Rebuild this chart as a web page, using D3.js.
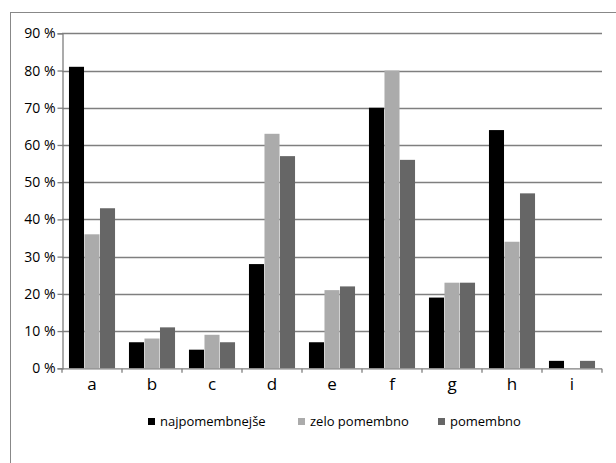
<!DOCTYPE html>
<html>
<head>
<meta charset="utf-8">
<script src="https://cdn.jsdelivr.net/npm/d3@7"></script>
<style>
  body { margin: 0; background: #fff; }
  svg { display: block; font-family: "Open Sans", "Noto Sans", sans-serif; }
</style>
</head>
<body>
<svg id="chart" width="616" height="463"></svg>
<script>
// data
var categories = ["a", "b", "c", "d", "e", "f", "g", "h", "i"];
var seriesNames = ["najpomembnejše", "zelo pomembno", "pomembno"];
var seriesColors = ["#000000", "#ababab", "#666666"];
var najpomembnejse = [81, 7, 5, 28, 7, 70, 19, 64, 2];
var zeloPomembno = [36, 8, 9, 63, 21, 80, 23, 34, 0];
var pomembno = [43, 11, 7, 57, 22, 56, 23, 47, 2];
var yTicks = [0, 10, 20, 30, 40, 50, 60, 70, 80, 90];

var series = [najpomembnejse, zeloPomembno, pomembno];

var svg = d3.select("#chart");

// outer frame (runs off right and bottom edge)
svg.append("rect")
    .attr("x", 10.5).attr("y", 12.5)
    .attr("width", 620).attr("height", 470)
    .style("fill", "none")
    .style("stroke", "#888")
    .style("stroke-width", 1);

var plotL = 62, plotR = 602, plotT = 33.3, plotB = 368.3;

var x = d3.scaleBand()
    .domain(categories)
    .range([plotL, plotR])
    .paddingInner(0)
    .paddingOuter(0);

var xs = d3.scaleBand()
    .domain(d3.range(3))
    .range([6.5, x.bandwidth() - 6.5])
    .padding(0.03);

var y = d3.scaleLinear()
    .domain([0, 90])
    .range([plotB, plotT]);

// gridlines
svg.append("g")
    .selectAll("line")
    .data(yTicks.slice(1))
    .join("line")
    .attr("x1", plotL).attr("x2", plotR)
    .attr("y1", function(d) { return Math.round(y(d)) + 0.5; })
    .attr("y2", function(d) { return Math.round(y(d)) + 0.5; })
    .style("stroke", "#7f7f7f")
    .style("stroke-width", 1.3);

// bars
var groups = svg.append("g")
    .selectAll("g")
    .data(categories)
    .join("g")
    .attr("transform", function(d) { return "translate(" + x(d) + ",0)"; });

groups.selectAll("rect")
    .data(function(c, ci) {
        return series.map(function(s, si) { return {si: si, v: s[ci]}; })
            .filter(function(d) { return d.v > 0; });
    })
    .join("rect")
    .attr("x", function(d) { return xs(d.si); })
    .attr("width", xs.bandwidth())
    .attr("y", function(d) { return y(d.v); })
    .attr("height", function(d) { return plotB - y(d.v); })
    .style("fill", function(d) { return seriesColors[d.si]; });

// y axis
var yAxis = svg.append("g")
    .attr("transform", "translate(" + (plotL + 0.5) + ",0)")
    .call(d3.axisLeft(y).tickValues(yTicks).tickSize(5).tickPadding(2)
        .tickFormat(function(d) { return d + " %"; }));
yAxis.select(".domain").style("stroke", "#7f7f7f").style("stroke-width", 1.3);
yAxis.selectAll(".tick line").style("stroke", "#7f7f7f").style("stroke-width", 1.3);
yAxis.selectAll("text")
    .style("font-size", "14px")
    .style("fill", "#000")
    .attr("font-family", "Open Sans");

// x axis
var xAxisG = svg.append("g")
    .attr("transform", "translate(0," + (plotB + 0.5) + ")");
xAxisG.append("line")
    .attr("x1", plotL).attr("x2", plotR)
    .style("stroke", "#7f7f7f").style("stroke-width", 1.3);
xAxisG.selectAll(".sep")
    .data(categories.concat(["end"]))
    .join("line")
    .attr("class", "sep")
    .attr("x1", function(d, i) { return plotL + i * x.step(); })
    .attr("x2", function(d, i) { return plotL + i * x.step(); })
    .attr("y1", 0).attr("y2", 4)
    .style("stroke", "#7f7f7f").style("stroke-width", 1.3);
xAxisG.selectAll("text")
    .data(categories)
    .join("text")
    .attr("x", function(d) { return x(d) + x.bandwidth() / 2; })
    .attr("y", 21)
    .attr("text-anchor", "middle")
    .style("font-size", "17px")
    .style("fill", "#000")
    .text(function(d) { return d; });

// legend
var legendX = [148, 298, 438];
var legend = svg.append("g")
    .selectAll("g")
    .data(seriesNames)
    .join("g")
    .attr("transform", function(d, i) { return "translate(" + legendX[i] + ",418)"; });
legend.append("rect")
    .attr("width", 7).attr("height", 7)
    .style("fill", function(d, i) { return seriesColors[i]; });
legend.append("text")
    .attr("x", 12).attr("y", 8)
    .style("font-size", "13px")
    .style("fill", "#000")
    .text(function(d) { return d; });
</script>
</body>
</html>
